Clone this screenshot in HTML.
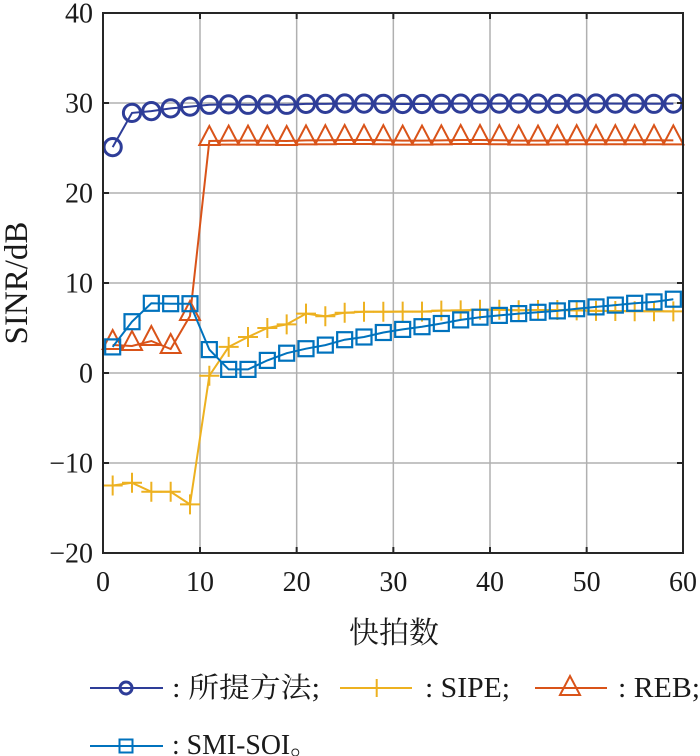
<!DOCTYPE html>
<html>
<head>
<meta charset="utf-8">
<style>
  html,body{margin:0;padding:0;background:#fff;}
  svg{display:block;}
  .tk{font-family:"Liberation Serif","Noto Serif CJK SC",serif;font-size:28px;fill:#1a1a1a;}
  .lg{font-family:"Liberation Serif","Noto Serif CJK SC",serif;font-size:28px;fill:#1a1a1a;}
</style>
</head>
<body>
<svg width="700" height="756" viewBox="0 0 700 756" xmlns="http://www.w3.org/2000/svg">
  <defs>
    <circle id="mc" cx="0" cy="0" r="8.6" fill="none" stroke="#2E3D98" stroke-width="3"/>
    <path id="mt" d="M-10,4 L0,-15 L10,4 Z" fill="none" stroke="#D95319" stroke-width="2"/>
    <path id="mp" d="M-10,0 H10 M0,-10 V10" fill="none" stroke="#EDB120" stroke-width="2"/>
    <rect id="ms" x="-7.5" y="-7.5" width="15" height="15" fill="none" stroke="#0072BD" stroke-width="2.2"/>
  </defs>

  <!-- grid -->
  <g stroke="#b0b0b0" stroke-width="1.5">
    <line x1="200" y1="13" x2="200" y2="553"/>
    <line x1="296.67" y1="13" x2="296.67" y2="553"/>
    <line x1="393.33" y1="13" x2="393.33" y2="553"/>
    <line x1="490" y1="13" x2="490" y2="553"/>
    <line x1="586.67" y1="13" x2="586.67" y2="553"/>
    <line x1="103" y1="103" x2="683" y2="103"/>
    <line x1="103" y1="193" x2="683" y2="193"/>
    <line x1="103" y1="283" x2="683" y2="283"/>
    <line x1="103" y1="373" x2="683" y2="373"/>
    <line x1="103" y1="463" x2="683" y2="463"/>
  </g>

  <!-- Series 1: 所提方法 -->
  <polyline fill="none" stroke="#2E3D98" stroke-width="2"
    points="112.67,147.1 132,112.9 151.33,111.1 170.67,108.4 190,106.6 209.33,104.8 228.67,104.4 248,104.8 267.33,104.4 286.67,104.8 306,103.9 325.33,103.9 344.67,103.5 364,103.6 383.33,103.8 402.67,104 422,104 441.33,103.8 460.67,103.6 480,103.6 499.33,103.6 518.67,103.5 538,103.6 557.33,103.8 576.67,103.6 596,103.5 615.33,103.6 634.67,103.6 654,103.8 673.33,103.6"/>
  <g>
    <use href="#mc" x="112.67" y="147.1"/><use href="#mc" x="132" y="112.9"/><use href="#mc" x="151.33" y="111.1"/><use href="#mc" x="170.67" y="108.4"/><use href="#mc" x="190" y="106.6"/><use href="#mc" x="209.33" y="104.8"/><use href="#mc" x="228.67" y="104.4"/><use href="#mc" x="248" y="104.8"/><use href="#mc" x="267.33" y="104.4"/><use href="#mc" x="286.67" y="104.8"/><use href="#mc" x="306" y="103.9"/><use href="#mc" x="325.33" y="103.9"/><use href="#mc" x="344.67" y="103.5"/><use href="#mc" x="364" y="103.6"/><use href="#mc" x="383.33" y="103.8"/><use href="#mc" x="402.67" y="104"/><use href="#mc" x="422" y="104"/><use href="#mc" x="441.33" y="103.8"/><use href="#mc" x="460.67" y="103.6"/><use href="#mc" x="480" y="103.6"/><use href="#mc" x="499.33" y="103.6"/><use href="#mc" x="518.67" y="103.5"/><use href="#mc" x="538" y="103.6"/><use href="#mc" x="557.33" y="103.8"/><use href="#mc" x="576.67" y="103.6"/><use href="#mc" x="596" y="103.5"/><use href="#mc" x="615.33" y="103.6"/><use href="#mc" x="634.67" y="103.6"/><use href="#mc" x="654" y="103.8"/><use href="#mc" x="673.33" y="103.6"/>
  </g>

  <!-- Series 2: SIPE -->
  <polyline fill="none" stroke="#EDB120" stroke-width="2"
    points="112.67,485.5 132,482.8 151.33,491.8 170.67,491.8 190,504.4 209.33,375.7 228.67,346.9 248,337 267.33,328 286.67,324.4 306,313.6 325.33,316.3 344.67,312.7 364,311.8 383.33,311.8 402.67,311.6 422,311.6 441.33,310.6 460.67,310.4 480,309.8 499.33,309.8 518.67,310.2 538,310 557.33,310 576.67,310.4 596,310.9 615.33,311 634.67,311.2 654,311.2 673.33,311.4"/>
  <g>
    <use href="#mp" x="112.67" y="485.5"/><use href="#mp" x="132" y="482.8"/><use href="#mp" x="151.33" y="491.8"/><use href="#mp" x="170.67" y="491.8"/><use href="#mp" x="190" y="504.4"/><use href="#mp" x="209.33" y="375.7"/><use href="#mp" x="228.67" y="346.9"/><use href="#mp" x="248" y="337"/><use href="#mp" x="267.33" y="328"/><use href="#mp" x="286.67" y="324.4"/><use href="#mp" x="306" y="313.6"/><use href="#mp" x="325.33" y="316.3"/><use href="#mp" x="344.67" y="312.7"/><use href="#mp" x="364" y="311.8"/><use href="#mp" x="383.33" y="311.8"/><use href="#mp" x="402.67" y="311.6"/><use href="#mp" x="422" y="311.6"/><use href="#mp" x="441.33" y="310.6"/><use href="#mp" x="460.67" y="310.4"/><use href="#mp" x="480" y="309.8"/><use href="#mp" x="499.33" y="309.8"/><use href="#mp" x="518.67" y="310.2"/><use href="#mp" x="538" y="310"/><use href="#mp" x="557.33" y="310"/><use href="#mp" x="576.67" y="310.4"/><use href="#mp" x="596" y="310.9"/><use href="#mp" x="615.33" y="311"/><use href="#mp" x="634.67" y="311.2"/><use href="#mp" x="654" y="311.2"/><use href="#mp" x="673.33" y="311.4"/>
  </g>

  <!-- Series 3: REB -->
  <polyline fill="none" stroke="#D95319" stroke-width="2"
    points="112.67,345 132,346 151.33,341 170.67,349 190,316 209.33,141 228.67,140.6 248,140.6 267.33,140.8 286.67,141 306,140.4 325.33,140.2 344.67,140 364,140 383.33,140.2 402.67,140.6 422,140.6 441.33,140.4 460.67,140 480,140 499.33,140.2 518.67,140.6 538,140.6 557.33,140.4 576.67,140.2 596,140.2 615.33,140.2 634.67,140.2 654,140.2 673.33,140.4"/>
  <g>
    <use href="#mt" x="112.67" y="345"/><use href="#mt" x="132" y="346"/><use href="#mt" x="151.33" y="341"/><use href="#mt" x="170.67" y="349"/><use href="#mt" x="190" y="316"/><use href="#mt" x="209.33" y="141"/><use href="#mt" x="228.67" y="140.6"/><use href="#mt" x="248" y="140.6"/><use href="#mt" x="267.33" y="140.8"/><use href="#mt" x="286.67" y="141"/><use href="#mt" x="306" y="140.4"/><use href="#mt" x="325.33" y="140.2"/><use href="#mt" x="344.67" y="140"/><use href="#mt" x="364" y="140"/><use href="#mt" x="383.33" y="140.2"/><use href="#mt" x="402.67" y="140.6"/><use href="#mt" x="422" y="140.6"/><use href="#mt" x="441.33" y="140.4"/><use href="#mt" x="460.67" y="140"/><use href="#mt" x="480" y="140"/><use href="#mt" x="499.33" y="140.2"/><use href="#mt" x="518.67" y="140.6"/><use href="#mt" x="538" y="140.6"/><use href="#mt" x="557.33" y="140.4"/><use href="#mt" x="576.67" y="140.2"/><use href="#mt" x="596" y="140.2"/><use href="#mt" x="615.33" y="140.2"/><use href="#mt" x="634.67" y="140.2"/><use href="#mt" x="654" y="140.2"/><use href="#mt" x="673.33" y="140.4"/>
  </g>

  <!-- Series 4: SMI-SOI -->
  <polyline fill="none" stroke="#0072BD" stroke-width="2"
    points="112.67,346.9 132,321.7 151.33,303.3 170.67,303.7 190,303.7 209.33,349.6 228.67,369.4 248,369.4 267.33,360.4 286.67,353.2 306,348.7 325.33,345.1 344.67,339.7 364,337 383.33,332.5 402.67,329.4 422,326.7 441.33,323.5 460.67,319.9 480,317.2 499.33,315.4 518.67,313.6 538,312.3 557.33,310.9 576.67,308.7 596,306.9 615.33,305.1 634.67,303.3 654,301.9 673.33,299.2"/>
  <g>
    <use href="#ms" x="112.67" y="346.9"/><use href="#ms" x="132" y="321.7"/><use href="#ms" x="151.33" y="303.3"/><use href="#ms" x="170.67" y="303.7"/><use href="#ms" x="190" y="303.7"/><use href="#ms" x="209.33" y="349.6"/><use href="#ms" x="228.67" y="369.4"/><use href="#ms" x="248" y="369.4"/><use href="#ms" x="267.33" y="360.4"/><use href="#ms" x="286.67" y="353.2"/><use href="#ms" x="306" y="348.7"/><use href="#ms" x="325.33" y="345.1"/><use href="#ms" x="344.67" y="339.7"/><use href="#ms" x="364" y="337"/><use href="#ms" x="383.33" y="332.5"/><use href="#ms" x="402.67" y="329.4"/><use href="#ms" x="422" y="326.7"/><use href="#ms" x="441.33" y="323.5"/><use href="#ms" x="460.67" y="319.9"/><use href="#ms" x="480" y="317.2"/><use href="#ms" x="499.33" y="315.4"/><use href="#ms" x="518.67" y="313.6"/><use href="#ms" x="538" y="312.3"/><use href="#ms" x="557.33" y="310.9"/><use href="#ms" x="576.67" y="308.7"/><use href="#ms" x="596" y="306.9"/><use href="#ms" x="615.33" y="305.1"/><use href="#ms" x="634.67" y="303.3"/><use href="#ms" x="654" y="301.9"/><use href="#ms" x="673.33" y="299.2"/>
  </g>

  <!-- axes box -->
  <rect x="103" y="13" width="580" height="540" fill="none" stroke="#262626" stroke-width="2"/>
  <!-- ticks -->
  <g stroke="#262626" stroke-width="2">
    <line x1="200" y1="553" x2="200" y2="547"/><line x1="296.67" y1="553" x2="296.67" y2="547"/><line x1="393.33" y1="553" x2="393.33" y2="547"/><line x1="490" y1="553" x2="490" y2="547"/><line x1="586.67" y1="553" x2="586.67" y2="547"/>
    <line x1="200" y1="13" x2="200" y2="19"/><line x1="296.67" y1="13" x2="296.67" y2="19"/><line x1="393.33" y1="13" x2="393.33" y2="19"/><line x1="490" y1="13" x2="490" y2="19"/><line x1="586.67" y1="13" x2="586.67" y2="19"/>
    <line x1="103" y1="103" x2="109" y2="103"/><line x1="103" y1="193" x2="109" y2="193"/><line x1="103" y1="283" x2="109" y2="283"/><line x1="103" y1="373" x2="109" y2="373"/><line x1="103" y1="463" x2="109" y2="463"/>
    <line x1="683" y1="103" x2="677" y2="103"/><line x1="683" y1="193" x2="677" y2="193"/><line x1="683" y1="283" x2="677" y2="283"/><line x1="683" y1="373" x2="677" y2="373"/><line x1="683" y1="463" x2="677" y2="463"/>
  </g>

  <!-- y tick labels -->
  <g class="tk" text-anchor="end">
    <text x="93" y="22.5">40</text>
    <text x="93" y="112.5">30</text>
    <text x="93" y="202.5">20</text>
    <text x="93" y="292.5">10</text>
    <text x="93" y="382.5">0</text>
    <text x="93" y="472.5">−10</text>
    <text x="93" y="562.5">−20</text>
  </g>
  <!-- x tick labels -->
  <g class="tk" text-anchor="middle">
    <text x="103" y="591">0</text>
    <text x="200" y="591">10</text>
    <text x="296.67" y="591">20</text>
    <text x="393.33" y="591">30</text>
    <text x="490" y="591">40</text>
    <text x="586.67" y="591">50</text>
    <text x="683" y="591">60</text>
  </g>

  <!-- axis labels -->
  <text x="394" y="643" text-anchor="middle" style="font-family:'Liberation Serif','Noto Serif CJK SC',serif;font-size:30px;fill:#1a1a1a;">快拍数</text>
  <text transform="translate(27,283) rotate(-90)" text-anchor="middle" style="font-family:'Liberation Serif','Noto Serif CJK SC',serif;font-size:33px;fill:#1a1a1a;">SINR/dB</text>

  <!-- legend row 1 -->
  <line x1="90" y1="688" x2="163" y2="688" stroke="#2E3D98" stroke-width="2"/>
  <circle cx="126" cy="688" r="6" fill="none" stroke="#2E3D98" stroke-width="3"/>
  <text class="lg" x="172" y="697" textLength="148" lengthAdjust="spacingAndGlyphs">: 所提方法;</text>

  <line x1="340" y1="688" x2="412" y2="688" stroke="#EDB120" stroke-width="2"/>
  <path d="M376.7,679 V697" stroke="#EDB120" stroke-width="2"/>
  <text class="lg" x="425" y="697" textLength="85" lengthAdjust="spacingAndGlyphs">: SIPE;</text>

  <line x1="535" y1="688" x2="607" y2="688" stroke="#D95319" stroke-width="2"/>
  <path d="M560,695 L570,676 L580,695 Z" fill="none" stroke="#D95319" stroke-width="2"/>
  <text class="lg" x="618" y="697" textLength="82" lengthAdjust="spacingAndGlyphs">: REB;</text>

  <!-- legend row 2 -->
  <line x1="90" y1="746" x2="163" y2="746" stroke="#0072BD" stroke-width="2"/>
  <rect x="119.5" y="739.5" width="13" height="13" fill="none" stroke="#0072BD" stroke-width="2"/>
  <text class="lg" x="172" y="754" textLength="146" lengthAdjust="spacingAndGlyphs">: SMI-SOI。</text>
</svg>
</body>
</html>
